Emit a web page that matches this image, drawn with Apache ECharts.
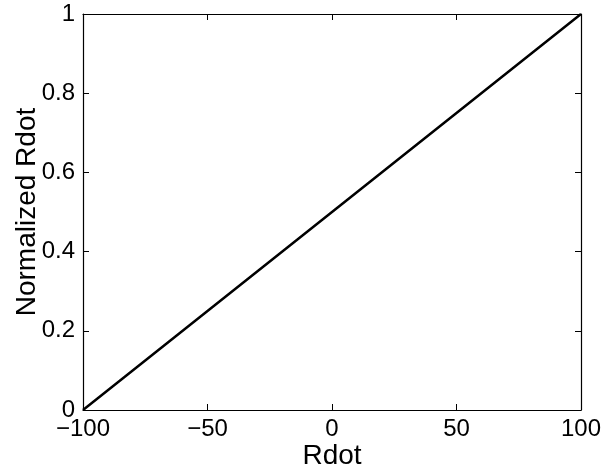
<!DOCTYPE html>
<html><head><meta charset="utf-8">
<script src="https://cdn.jsdelivr.net/npm/echarts@6/dist/echarts.min.js"></script>
<style>html,body{margin:0;padding:0;background:#fff}#c{width:603px;height:473px}</style>
</head><body><div id="c"></div>
<script>
const rdot = [-100, -50, 0, 50, 100];
const normalized = [0, 0.25, 0.5, 0.75, 1];
const xTicks = [-100, -50, 0, 50, 100];
const yTicks = [0, 0.2, 0.4, 0.6, 0.8, 1];
const xLabel = 'Rdot';
const yLabel = 'Normalized Rdot';

const FS = 24;
const NFS = 28;
const font = 'Liberation Sans, Arial, sans-serif';
const fmtX = v => (v < 0 ? '\u2212' + Math.abs(v) : String(v));
const fmtY = v => String(Math.round(v * 10) / 10);
const axisCommon = () => ({
  axisLine: { show: true, onZero: false, lineStyle: { color: '#000', width: 1.2 } },
  axisTick: { show: true, inside: true, length: 6, lineStyle: { color: '#000', width: 1 } },
  splitLine: { show: false }
});
const chart = echarts.init(document.getElementById('c'), null, { renderer: 'canvas' });
chart.setOption({
  animation: false,
  backgroundColor: '#fff',
  grid: { left: 83, right: 22, top: 14, bottom: 63, containLabel: false, outerBoundsMode: 'none' },
  xAxis: [
    Object.assign({ type: 'value', min: xTicks[0], max: xTicks[xTicks.length - 1], interval: 50, position: 'bottom',
      name: xLabel, nameLocation: 'middle', nameGap: 32, nameMoveOverlap: false,
      nameTextStyle: { fontSize: NFS, color: '#000', fontFamily: font },
      axisLabel: { fontSize: FS, color: '#000', fontFamily: font, margin: 7, formatter: fmtX } }, axisCommon()),
    Object.assign({ type: 'value', min: xTicks[0], max: xTicks[xTicks.length - 1], interval: 50, position: 'top',
      axisLabel: { show: false } }, axisCommon())
  ],
  yAxis: [
    Object.assign({ type: 'value', min: yTicks[0], max: yTicks[yTicks.length - 1], interval: 0.2, position: 'left',
      name: yLabel, nameLocation: 'middle', nameGap: 42, nameMoveOverlap: false,
      nameTextStyle: { fontSize: NFS, color: '#000', fontFamily: font },
      axisLabel: { fontSize: FS, color: '#000', fontFamily: font, margin: 8, formatter: fmtY } }, axisCommon()),
    Object.assign({ type: 'value', min: yTicks[0], max: yTicks[yTicks.length - 1], interval: 0.2, position: 'right',
      axisLabel: { show: false } }, axisCommon())
  ],
  series: [{
    type: 'line', data: rdot.map((x, i) => [x, normalized[i]]),
    showSymbol: false, lineStyle: { color: '#000', width: 2.5 }, xAxisIndex: 0, yAxisIndex: 0
  }]
});
</script></body></html>
